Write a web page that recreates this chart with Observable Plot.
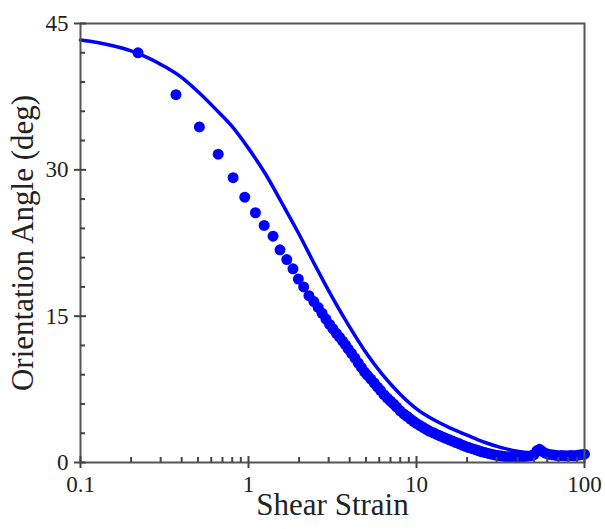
<!DOCTYPE html>
<html><head><meta charset="utf-8">
<script src="https://cdn.jsdelivr.net/npm/d3@7"></script>
<script src="https://cdn.jsdelivr.net/npm/@observablehq/plot@0.6"></script>
<style>html,body{margin:0;padding:0;background:#fff;} #chart svg{display:block;}</style>
</head><body><div id="chart"></div>
<script>
// Measured points (circles)
const dotStrain = [0.22,0.37,0.51,0.66,0.81,0.95,1.10,1.24,1.40,1.54,1.69,1.84,1.98,2.13,2.29,2.45,2.60,2.74,2.89,3.04,3.18,3.33,3.48,3.63,3.78,3.92,
  4.1,4.3,4.5,4.7,4.9,5.1,5.35,5.6,5.85,6.1,6.4,6.7,7.0,7.3,7.6,8.0,8.4,8.8,9.2,9.6,10.0,10.5,11.0,11.5,12.0,12.6,13.2,13.8,14.4,15.0,
  15.7,16.4,17.2,18.0,18.8,19.6,20.5,21.5,22.5,23.5,24.5,25.6,26.8,28,29.3,30.6,32,33.5,35,36.6,38.3,40,41.8,43.7,45.7,47.8,50,52,54,56,
  58.5,61,64,67,70,73,76.5,80,83.5,87,91,95,100];
const dotAngle = [42.0,37.7,34.4,31.6,29.2,27.2,25.6,24.3,23.2,21.8,20.8,19.85,18.8,18.0,17.1,16.5,15.9,15.3,14.7,14.15,13.7,13.25,12.85,12.45,12.05,11.65,
  11.2,10.7,10.2,9.75,9.3,8.95,8.55,8.15,7.75,7.4,6.95,6.6,6.3,6.0,5.7,5.3,4.98,4.72,4.45,4.22,4.0,3.78,3.58,3.38,3.2,3.05,2.88,2.73,2.6,2.47,
  2.33,2.2,2.05,1.92,1.78,1.65,1.53,1.42,1.31,1.2,1.1,1.02,0.93,0.85,0.78,0.72,0.66,0.62,0.60,0.56,0.55,0.60,0.55,0.60,0.65,0.70,0.80,1.20,1.35,1.15,
  0.95,0.85,0.80,0.75,0.70,0.72,0.70,0.68,0.72,0.70,0.75,0.80,0.85];
// Model curve (line)
const lineStrain = [0.1,0.126,0.158,0.2,0.251,0.316,0.398,0.501,0.631,0.794,1,1.26,1.58,2.0,2.51,3.16,3.98,5.01,6.31,7.94,10,12.6,15.8,20,25.1,31.6,39.8,50.1,63.1,79.4,100];
const lineAngle  = [43.3,43.05,42.7,42.2,41.5,40.6,39.5,38.0,36.3,34.5,32.2,29.6,26.6,23.4,20.1,16.9,13.95,11.25,8.95,7.05,5.5,4.4,3.55,2.8,2.1,1.55,1.15,0.95,0.85,0.8,0.75];
// Axes
const xTicks = [0.1, 1, 10, 100];
const xTickLabels = ["0.1", "1", "10", "100"];
const xMinor = [0.2,0.3,0.4,0.5,0.6,0.7,0.8,0.9,2,3,4,5,6,7,8,9,20,30,40,50,60,70,80,90];
const yTicks = [0, 15, 30, 45];
const yTickLabels = ["0", "15", "30", "45"];
const yMinor = [3,6,9,12,18,21,24,27,33,36,39,42];
const xTitle = "Shear Strain";
const yTitle = "Orientation Angle (deg)";

const dots = dotStrain.map((x, i) => ({x, y: dotAngle[i]}));
const curve = lineStrain.map((x, i) => ({x, y: lineAngle[i]}));
const blue = "#0000ff";
const axisColor = "#444";

const chart = Plot.plot({
  width: 605, height: 529,
  marginLeft: 80, marginRight: 21, marginTop: 23, marginBottom: 67,
  style: {fontFamily: "'Liberation Serif', 'Times New Roman', serif", background: "#fff", color: "#222"},
  x: {type: "log", domain: [0.1, 100], axis: null},
  y: {domain: [0, 45], axis: null},
  marks: [
    Plot.dot(dots, {x: "x", y: "y", r: 5.5, fill: blue, stroke: "none"}),
    Plot.line(curve, {x: "x", y: "y", stroke: blue, strokeWidth: 3.5, curve: "monotone-x"}),
    Plot.frame({stroke: "#555", strokeWidth: 2}),
    Plot.ruleX(xTicks, {x: d => d, y1: 0, y2: 0, insetTop: -6, insetBottom: -6, stroke: axisColor, strokeWidth: 2}),
    Plot.ruleX(xMinor, {x: d => d, y1: 0, y2: 0, insetTop: -5, stroke: axisColor, strokeWidth: 2}),
    Plot.ruleY(yTicks, {y: d => d, x1: 0.1, x2: 0.1, insetLeft: -6, insetRight: -6, stroke: axisColor, strokeWidth: 2}),
    Plot.ruleY(yMinor, {y: d => d, x1: 0.1, x2: 0.1, insetRight: -5, stroke: axisColor, strokeWidth: 2}),
    Plot.axisX(xTicks, {tickSize: 0, tickPadding: 13, fontSize: 23, label: null, tickFormat: d => xTickLabels[xTicks.indexOf(d)]}),
    Plot.axisY(yTicks, {tickSize: 0, tickPadding: 12, fontSize: 23, label: null, tickFormat: d => yTickLabels[yTicks.indexOf(d)]}),
    Plot.text([xTitle], {frameAnchor: "bottom", dy: 52, fontSize: 31, fill: "#222"}),
    Plot.text([yTitle], {frameAnchor: "left", textAnchor: "middle", dx: -57, rotate: -90, fontSize: 31, fill: "#222"})
  ]
});
document.getElementById("chart").appendChild(chart);
</script>
</body></html>
